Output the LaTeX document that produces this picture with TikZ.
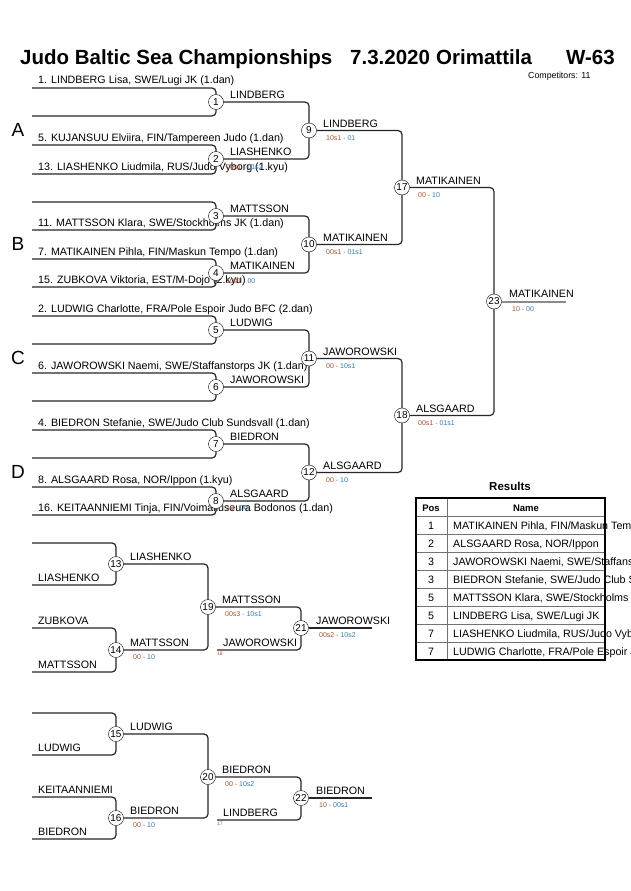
\documentclass[tikz,border=0pt]{standalone}
\usepackage{fontspec}
\setmainfont{Liberation Sans}
\usepackage{tikz}

\definecolor{scorewhite}{HTML}{A0522D}
\definecolor{scoreblue}{HTML}{2E7DB5}
\newcommand{\judoscore}[2]{\textcolor{scorewhite}{#1 -} \textcolor{scoreblue}{#2}}

\tikzset{
  match/.style={circle, draw, fill=white, inner sep=0pt, minimum size=15pt,
    font=\fontsize{10}{10}\selectfont},
  bracket/.style={draw=black!85, line width=1.2pt, rounded corners=4pt},
  player/.style={anchor=base west, inner sep=0pt, font=\fontsize{10.7}{12}\selectfont},
  score/.style={anchor=base west, inner sep=0pt, font=\fontsize{7}{8}\selectfont},
  pool/.style={inner sep=0pt, font=\fontsize{19}{20}\selectfont},
  headline/.style={anchor=base west, inner sep=0pt, font=\fontsize{20.5}{22}\selectfont\bfseries},
  cell/.style={inner sep=0pt, font=\fontsize{10.7}{12}\selectfont},
}

\begin{document}
\begin{tikzpicture}[x=1pt, y=-1pt]
  \useasboundingbox (0,0) rectangle (630,891);
  \clip (0,0) rectangle (630,891);

  % title
  \node [headline] (title) at (20,64) {Judo Baltic Sea Championships};
  \node [headline] (tdate) at (350,64) {7.3.2020};
  \node [headline] (tplace) at (436,64) {Orimattila};
  \node [headline] (tcat) at (566,64) {W-63};
  \node [anchor=base west, inner sep=0pt, font=\fontsize{8.8}{9}\selectfont] (ncomp) at (528,78) {Competitors: 11};

  % pools
  \node [pool] (poolA) at (18,130) {A};
  \node [pool] (poolB) at (18,244) {B};
  \node [pool] (poolC) at (18,358) {C};
  \node [pool] (poolD) at (18,472) {D};

  % players
  \node [player] (p1) at (38,84) {1. LINDBERG Lisa, SWE/Lugi JK (1.dan)};
  \node [player] (p5) at (38,141) {5. KUJANSUU Elviira, FIN/Tampereen Judo (1.dan)};
  \node [player] (p13) at (38,170) {13. LIASHENKO Liudmila, RUS/Judo Vyborg (1.kyu)};
  \node [player] (p11) at (38,226) {11. MATTSSON Klara, SWE/Stockholms JK (1.dan)};
  \node [player] (p7) at (38,255) {7. MATIKAINEN Pihla, FIN/Maskun Tempo (1.dan)};
  \node [player] (p15) at (38,283) {15. ZUBKOVA Viktoria, EST/M-Dojo (2.kyu)};
  \node [player] (p2) at (38,312) {2. LUDWIG Charlotte, FRA/Pole Espoir Judo BFC (2.dan)};
  \node [player] (p6) at (38,369) {6. JAWOROWSKI Naemi, SWE/Staffanstorps JK (1.dan)};
  \node [player] (p4) at (38,426) {4. BIEDRON Stefanie, SWE/Judo Club Sundsvall (1.dan)};
  \node [player] (p8) at (38,483) {8. ALSGAARD Rosa, NOR/Ippon (1.kyu)};
  \node [player] (p16) at (38,511) {16. KEITAANNIEMI Tinja, FIN/Voimailuseura Bodonos (1.dan)};

  % winners, first round
  \node [player] (w1) at (230,98) {LINDBERG};
  \node [player] (w2) at (230,155) {LIASHENKO};
  \node [score] (s2) at (226,169) {\judoscore{00s1}{01s2}};
  \node [player] (w3) at (230,212) {MATTSSON};
  \node [player] (w4) at (230,269) {MATIKAINEN};
  \node [score] (s4) at (226,283) {\judoscore{10s1}{00}};
  \node [player] (w5) at (230,326) {LUDWIG};
  \node [player] (w6) at (230,383) {JAWOROWSKI};
  \node [player] (w7) at (230,440) {BIEDRON};
  \node [player] (w8) at (230,497) {ALSGAARD};
  \node [score] (s8) at (226,510) {\judoscore{10}{00}};

  % winners, later rounds
  \node [player] (w9) at (323,127) {LINDBERG};
  \node [score] (s9) at (326,140) {\judoscore{10s1}{01}};
  \node [player] (w10) at (323,241) {MATIKAINEN};
  \node [score] (s10) at (326,254) {\judoscore{00s1}{01s1}};
  \node [player] (w11) at (323,355) {JAWOROWSKI};
  \node [score] (s11) at (326,368) {\judoscore{00}{10s1}};
  \node [player] (w12) at (323,469) {ALSGAARD};
  \node [score] (s12) at (326,482) {\judoscore{00}{10}};
  \node [player] (w17) at (416,184) {MATIKAINEN};
  \node [score] (s17) at (418,197) {\judoscore{00}{10}};
  \node [player] (w18) at (416,412) {ALSGAARD};
  \node [score] (s18) at (418,425) {\judoscore{00s1}{01s1}};
  \node [player] (w23) at (509,297) {MATIKAINEN};
  \node [score] (s23) at (512,311) {\judoscore{10}{00}};

  % repechage labels
  \node [player] (q13) at (38,581) {LIASHENKO};
  \node [player] (q14a) at (38,624) {ZUBKOVA};
  \node [player] (q14b) at (38,668) {MATTSSON};
  \node [player] (w13) at (130,560) {LIASHENKO};
  \node [player] (w14) at (130,646) {MATTSSON};
  \node [score] (s14) at (133,659) {\judoscore{00}{10}};
  \node [player] (w19) at (222,603) {MATTSSON};
  \node [score] (s19) at (225,616) {\judoscore{00s3}{10s1}};
  \node [player] (q21) at (223,646) {JAWOROWSKI};
  \node [score, font=\fontsize{5}{5}\selectfont, text=scorewhite] (f18) at (217,655) {18};
  \node [player] (w21) at (316,624) {JAWOROWSKI};
  \node [score] (s21) at (319,637) {\judoscore{00s2}{10s2}};

  \node [player] (q15) at (38,751) {LUDWIG};
  \node [player] (q16a) at (38,793) {KEITAANNIEMI};
  \node [player] (q16b) at (38,835) {BIEDRON};
  \node [player] (w15) at (130,730) {LUDWIG};
  \node [player] (w16) at (130,814) {BIEDRON};
  \node [score] (s16) at (133,827) {\judoscore{00}{10}};
  \node [player] (w20) at (222,773) {BIEDRON};
  \node [score] (s20) at (225,786) {\judoscore{00}{10s2}};
  \node [player] (q22) at (223,816) {LINDBERG};
  \node [score, font=\fontsize{5}{5}\selectfont, text=scorewhite] (f17) at (217,825) {17};
  \node [player] (w22) at (316,794) {BIEDRON};
  \node [score] (s22) at (319,807) {\judoscore{10}{00s1}};

  % matches
  \node [match] (m1) at (216,102) {1};
  \node [match] (m2) at (216,159) {2};
  \node [match] (m3) at (216,216) {3};
  \node [match] (m4) at (216,273) {4};
  \node [match] (m5) at (216,330) {5};
  \node [match] (m6) at (216,387) {6};
  \node [match] (m7) at (216,444) {7};
  \node [match] (m8) at (216,501) {8};
  \node [match] (m9) at (309,130.5) {9};
  \node [match] (m10) at (309,244.5) {10};
  \node [match] (m11) at (309,358.5) {11};
  \node [match] (m12) at (309,472.5) {12};
  \node [match] (m17) at (402,187.5) {17};
  \node [match] (m18) at (402,415.5) {18};
  \node [match] (m23) at (494,301.5) {23};
  \node [match] (m13) at (116,564) {13};
  \node [match] (m14) at (116,650) {14};
  \node [match] (m15) at (116,734) {15};
  \node [match] (m16) at (116,818) {16};
  \node [match] (m19) at (208,607) {19};
  \node [match] (m20) at (208,777) {20};
  \node [match] (m21) at (301,628) {21};
  \node [match] (m22) at (301,798) {22};

  % entry lines
  \coordinate (e1a) at (32,88);   \coordinate (e1b) at (32,116);
  \coordinate (e2a) at (32,145);  \coordinate (e2b) at (32,174);
  \coordinate (e3a) at (32,202);  \coordinate (e3b) at (32,230);
  \coordinate (e4a) at (32,259);  \coordinate (e4b) at (32,287);
  \coordinate (e5a) at (32,316);  \coordinate (e5b) at (32,344);
  \coordinate (e6a) at (32,373);  \coordinate (e6b) at (32,401);
  \coordinate (e7a) at (32,430);  \coordinate (e7b) at (32,458);
  \coordinate (e8a) at (32,487);  \coordinate (e8b) at (32,515);
  \coordinate (e13a) at (32,543); \coordinate (e13b) at (32,585);
  \coordinate (e14a) at (32,628); \coordinate (e14b) at (32,672);
  \coordinate (e15a) at (32,713); \coordinate (e15b) at (32,755);
  \coordinate (e16a) at (32,797); \coordinate (e16b) at (32,839);
  \coordinate (e21b) at (217,650);
  \coordinate (e22b) at (217,820);
  \coordinate (out21) at (372,628);
  \coordinate (out22) at (372,798);
  \coordinate (out23) at (566,301.5);

  \draw [bracket] (e1a) -| (m1);  \draw [bracket] (e1b) -| (m1);
  \draw [bracket] (e2a) -| (m2);  \draw [bracket] (e2b) -| (m2);
  \draw [bracket] (e3a) -| (m3);  \draw [bracket] (e3b) -| (m3);
  \draw [bracket] (e4a) -| (m4);  \draw [bracket] (e4b) -| (m4);
  \draw [bracket] (e5a) -| (m5);  \draw [bracket] (e5b) -| (m5);
  \draw [bracket] (e6a) -| (m6);  \draw [bracket] (e6b) -| (m6);
  \draw [bracket] (e7a) -| (m7);  \draw [bracket] (e7b) -| (m7);
  \draw [bracket] (e8a) -| (m8);  \draw [bracket] (e8b) -| (m8);
  \draw [bracket] (m1) -| (m9);   \draw [bracket] (m2) -| (m9);
  \draw [bracket] (m3) -| (m10);  \draw [bracket] (m4) -| (m10);
  \draw [bracket] (m5) -| (m11);  \draw [bracket] (m6) -| (m11);
  \draw [bracket] (m7) -| (m12);  \draw [bracket] (m8) -| (m12);
  \draw [bracket] (m9) -| (m17);  \draw [bracket] (m10) -| (m17);
  \draw [bracket] (m11) -| (m18); \draw [bracket] (m12) -| (m18);
  \draw [bracket] (m17) -| (m23); \draw [bracket] (m18) -| (m23);
  \draw [draw=black!45, line width=2pt] (m23) -- (out23);

  % repechage
  \draw [bracket] (e13a) -| (m13); \draw [bracket] (e13b) -| (m13);
  \draw [bracket] (e14a) -| (m14); \draw [bracket] (e14b) -| (m14);
  \draw [bracket] (e15a) -| (m15); \draw [bracket] (e15b) -| (m15);
  \draw [bracket] (e16a) -| (m16); \draw [bracket] (e16b) -| (m16);
  \draw [bracket] (m13) -| (m19);  \draw [bracket] (m14) -| (m19);
  \draw [bracket] (m15) -| (m20);  \draw [bracket] (m16) -| (m20);
  \draw [bracket] (m19) -| (m21);  \draw [bracket] (e21b) -| (m21);
  \draw [bracket] (m20) -| (m22);  \draw [bracket] (e22b) -| (m22);
  \draw [bracket] (m21) -- (out21);
  \draw [bracket] (m22) -- (out22);

  % results
  \node [anchor=base, inner sep=0pt, font=\fontsize{11.5}{12}\selectfont\bfseries] (results) at (510,490) {Results};
  \node [cell, anchor=base, font=\fontsize{9.5}{11}\selectfont\bfseries] (hpos) at (431,511) {Pos};
  \node [cell, anchor=base, font=\fontsize{9.5}{11}\selectfont\bfseries] (hname) at (526,511) {Name};
  \node [cell, anchor=base] (r1) at (431,529) {1};
  \node [cell, anchor=base west] (n1) at (453,529) {MATIKAINEN Pihla, FIN/Maskun Tempo};
  \node [cell, anchor=base] (r2) at (431,547) {2};
  \node [cell, anchor=base west] (n2) at (453,547) {ALSGAARD Rosa, NOR/Ippon};
  \node [cell, anchor=base] (r3) at (431,565) {3};
  \node [cell, anchor=base west] (n3) at (453,565) {JAWOROWSKI Naemi, SWE/Staffanstorps JK};
  \node [cell, anchor=base] (r4) at (431,583) {3};
  \node [cell, anchor=base west] (n4) at (453,583) {BIEDRON Stefanie, SWE/Judo Club Sundsvall};
  \node [cell, anchor=base] (r5) at (431,601) {5};
  \node [cell, anchor=base west] (n5) at (453,601) {MATTSSON Klara, SWE/Stockholms JK};
  \node [cell, anchor=base] (r6) at (431,619) {5};
  \node [cell, anchor=base west] (n6) at (453,619) {LINDBERG Lisa, SWE/Lugi JK};
  \node [cell, anchor=base] (r7) at (431,637) {7};
  \node [cell, anchor=base west] (n7) at (453,637) {LIASHENKO Liudmila, RUS/Judo Vyborg};
  \node [cell, anchor=base] (r8) at (431,655) {7};
  \node [cell, anchor=base west] (n8) at (453,655) {LUDWIG Charlotte, FRA/Pole Espoir Judo BFC};
  \draw [black!55, line width=0.8pt] (416,516) -- (605,516)
    (416,534) -- (605,534) (416,552) -- (605,552) (416,570) -- (605,570)
    (416,588) -- (605,588) (416,606) -- (605,606) (416,624) -- (605,624)
    (416,642) -- (605,642) (447,498) -- (447,660);
  \draw [line width=1.5pt] (416,498) rectangle (605,660);
\end{tikzpicture}
\end{document}
